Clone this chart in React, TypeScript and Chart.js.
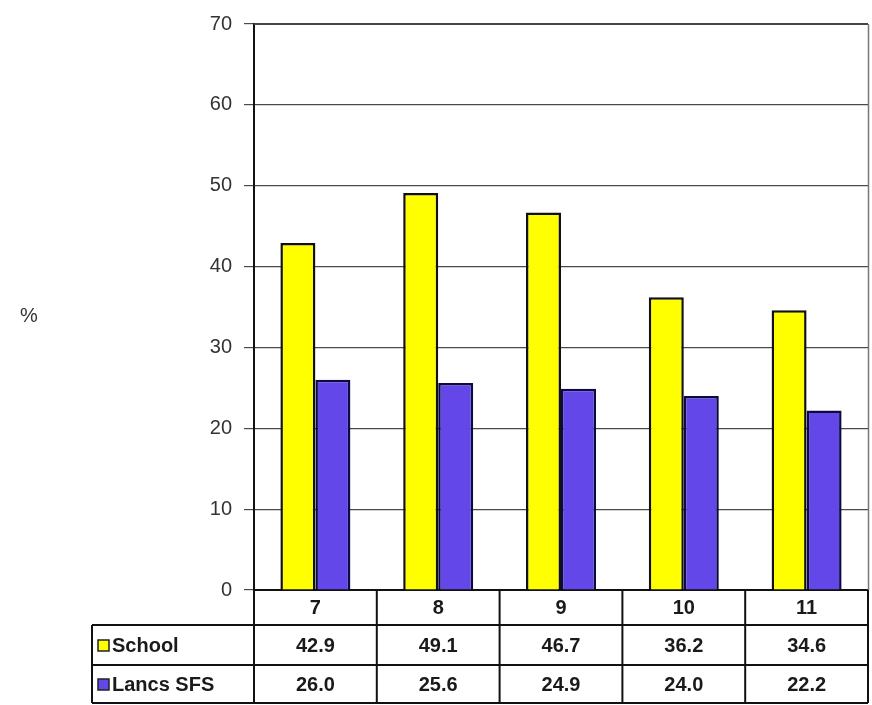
import React, { useEffect, useRef } from "react";
import { Chart, registerables } from "chart.js";

Chart.register(...registerables);

const categories = ["7", "8", "9", "10", "11"];
const schoolValues = [42.9, 49.1, 46.7, 36.2, 34.6];
const lancsValues = [26.0, 25.6, 24.9, 24.0, 22.2];
const seriesNames = ["School", "Lancs SFS"];
const yMin = 0;
const yMax = 70;
const yStep = 10;
const yAxisLabel = "%";

const SCHOOL_COLOR = "#FFFF00";
const LANCS_COLOR = "#6347E8";
const FONT = "'Liberation Sans', Arial, sans-serif";

const tablePlugin = {
  id: "dataTable",
  afterDraw(chart: any) {
    const ctx = chart.ctx;
    const area = chart.chartArea;
    const xs = chart.scales.x;
    const n = categories.length;
    const w = (area.right - area.left) / n;
    const legendLeft = 92;
    const rowTops = [area.bottom, 625, 665, 703];
    ctx.save();

    // top and right border of plot
    ctx.strokeStyle = "#444";
    ctx.lineWidth = 2;
    ctx.beginPath();
    ctx.moveTo(area.left, area.top);
    ctx.lineTo(area.right, area.top);
    ctx.stroke();
    ctx.strokeStyle = "#777";
    ctx.lineWidth = 1.5;
    ctx.beginPath();
    ctx.moveTo(area.right + 0.5, area.top);
    ctx.lineTo(area.right + 0.5, area.bottom);
    ctx.stroke();

    // y axis label
    ctx.fillStyle = "#333";
    ctx.font = `20px ${FONT}`;
    ctx.textAlign = "center";
    ctx.textBaseline = "middle";
    ctx.fillText(yAxisLabel, 29, 316);

    // table lines
    ctx.strokeStyle = "#111";
    ctx.lineWidth = 2;
    ctx.beginPath();
    for (let r = 1; r < rowTops.length; r++) {
      ctx.moveTo(legendLeft, rowTops[r]);
      ctx.lineTo(area.right, rowTops[r]);
    }
    ctx.moveTo(legendLeft, rowTops[1]);
    ctx.lineTo(legendLeft, rowTops[3]);
    for (let i = 0; i <= n; i++) {
      const x = area.left + i * w;
      ctx.moveTo(x, area.bottom);
      ctx.lineTo(x, rowTops[3]);
    }
    ctx.stroke();

    // text
    ctx.fillStyle = "#1a1a1a";
    ctx.font = `bold 20px ${FONT}`;
    ctx.textAlign = "center";
    const rows = [categories, schoolValues.map((v) => v.toFixed(1)), lancsValues.map((v) => v.toFixed(1))];
    rows.forEach((row, r) => {
      const cy = (rowTops[r] + rowTops[r + 1]) / 2 + 1;
      row.forEach((t, i) => {
        const cx = xs.getPixelForValue(i);
        ctx.fillText(String(t), cx, cy);
      });
    });

    // legend column
    const colors = [SCHOOL_COLOR, LANCS_COLOR];
    seriesNames.forEach((name, k) => {
      const cy = (rowTops[k + 1] + rowTops[k + 2]) / 2 + 1;
      ctx.fillStyle = colors[k];
      ctx.fillRect(98, cy - 6, 11, 11);
      ctx.strokeStyle = "#222";
      ctx.lineWidth = 1.5;
      ctx.strokeRect(98, cy - 6, 11, 11);
      ctx.fillStyle = "#1a1a1a";
      ctx.textAlign = "left";
      ctx.fillText(name, 112, cy);
    });
    ctx.restore();
  },
};

export default function App() {
  const ref = useRef<HTMLCanvasElement | null>(null);
  useEffect(() => {
    document.body.style.margin = "0";
    const chart = new Chart(ref.current as HTMLCanvasElement, {
      type: "bar",
      data: {
        labels: categories,
        datasets: [
          {
            label: seriesNames[0],
            data: schoolValues,
            backgroundColor: SCHOOL_COLOR,
            borderColor: "#111",
            borderWidth: 2.5,
            barPercentage: 1,
            categoryPercentage: 0.57,
          },
          {
            label: seriesNames[1],
            data: lancsValues,
            backgroundColor: LANCS_COLOR,
            borderColor: "#0b0b40",
            borderWidth: 2.5,
            barPercentage: 1,
            categoryPercentage: 0.57,
          },
        ],
      },
      options: {
        animation: false,
        responsive: false,
        maintainAspectRatio: false,
        layout: { padding: { top: 18, right: 4, left: 0, bottom: 0 } },
        plugins: { legend: { display: false }, tooltip: { enabled: false } },
        scales: {
          x: {
            ticks: { display: false },
            grid: { display: false },
            border: { display: true, color: "#111", width: 2 },
            afterFit: (s: any) => {
              s.height = 115;
            },
          },
          y: {
            min: yMin,
            max: yMax,
            ticks: {
              stepSize: yStep,
              color: "#333",
              font: { family: FONT, size: 20 },
              padding: 12,
            },
            grid: { color: "#4a4a4a", lineWidth: 1.2, tickLength: 10, drawTicks: true },
            border: { display: true, color: "#111", width: 2 },
            afterFit: (s: any) => {
              s.width = 254;
            },
          },
        },
      },
      plugins: [tablePlugin],
    } as any);
    return () => chart.destroy();
  }, []);
  return (
    <div style={{ width: 872, height: 705 }}>
      <canvas ref={ref} width={872} height={705} style={{ width: 872, height: 705, display: "block" }} />
    </div>
  );
}
